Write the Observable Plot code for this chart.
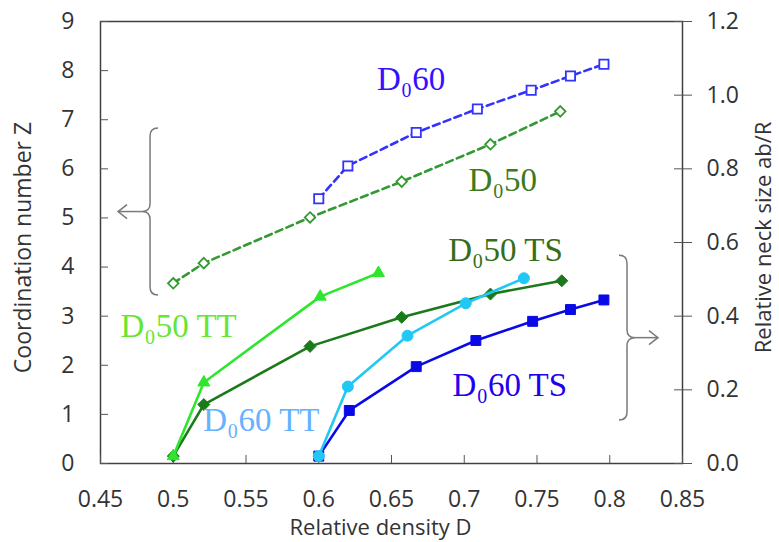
<!DOCTYPE html>
<html><head><meta charset="utf-8">
<script src="https://cdn.jsdelivr.net/npm/d3@7"></script>
<script src="https://cdn.jsdelivr.net/npm/@observablehq/plot@0.6"></script>
<style>body{margin:0;background:#fff}</style>
</head><body><div id="chart"></div>
<script>
// ---- data ----
const xTicks = [0.45, 0.5, 0.55, 0.6, 0.65, 0.7, 0.75, 0.8, 0.85];
const zTicks = [0, 1, 2, 3, 4, 5, 6, 7, 8, 9];
const neckTicks = [0, 0.2, 0.4, 0.6, 0.8, 1.0, 1.2];

// coordination number Z (left axis)
const density60 = [0.600, 0.620, 0.667, 0.709, 0.746, 0.773, 0.796];
const z60 = [5.39, 6.06, 6.74, 7.22, 7.60, 7.89, 8.13];
const density50 = [0.500, 0.521, 0.594, 0.657, 0.718, 0.766];
const z50 = [3.67, 4.08, 5.01, 5.74, 6.50, 7.17];
// relative neck size (right axis)
const density50TS = [0.500, 0.521, 0.594, 0.657, 0.718, 0.767];
const neck50TS = [0.02, 0.16, 0.318, 0.397, 0.46, 0.496];
const density60TS = [0.600, 0.621, 0.667, 0.708, 0.747, 0.773, 0.796];
const neck60TS = [0.02, 0.144, 0.263, 0.334, 0.386, 0.418, 0.444];
const density50TT = [0.500, 0.521, 0.601, 0.641];
const neck50TT = [0.02, 0.22, 0.453, 0.517];
const density60TT = [0.600, 0.620, 0.661, 0.701, 0.741];
const neck60TT = [0.02, 0.209, 0.347, 0.435, 0.503];

// annotation labels
const labelText = ["D₀60", "D₀50", "D₀50 TS", "D₀60 TS", "D₀50 TT", "D₀60 TT"];
const labelX = [0.640, 0.703, 0.689, 0.692, 0.4637, 0.5206];
const labelZ = [7.83, 5.76, 4.33, 1.59, 2.79, 0.875];
const labelColor = ["#3311ff", "#3c7a1e", "#356e1a", "#2200ee", "#66e633", "#66b2ff"];

// braces (data units: density, Z)
const braceX = [0.4844, 0.8122];
const braceTop = [6.82, 4.23];
const braceBottom = [3.42, 0.875];
const braceArrowTo = [0.4624, 0.8335];
const braceSide = ["left", "right"];

const zPerNeck = 9 / 1.2;

// ---- build series ----
const diamond = {draw(ctx, size) { const h = Math.sqrt(size / 2); ctx.moveTo(0, -h); ctx.lineTo(h, 0); ctx.lineTo(0, h); ctx.lineTo(-h, 0); ctx.closePath(); }};
const series = [
  {x: density50, v: z50, k: 1, color: "#339933", dash: "7,4.5", symbol: diamond, fill: "white", r: 4.2, sw: 1.8},
  {x: density60, v: z60, k: 1, color: "#3333ff", dash: "7,4.5", symbol: "square", fill: "white", r: 5.2, sw: 1.8},
  {x: density50TS, v: neck50TS, k: zPerNeck, color: "#1a7a1a", dash: null, symbol: diamond, fill: "#1a7a1a", r: 4.8, sw: 1},
  {x: density60TS, v: neck60TS, k: zPerNeck, color: "#0a0ae6", dash: null, symbol: "square", fill: "#0a0ae6", r: 5.6, sw: 1},
  {x: density50TT, v: neck50TT, k: zPerNeck, color: "#2ee62e", dash: null, symbol: "triangle", fill: "#2ee62e", r: 4.5, sw: 1},
  {x: density60TT, v: neck60TT, k: zPerNeck, color: "#22c8f5", dash: null, symbol: "circle", fill: "#22c8f5", r: 5.5, sw: 1}
];
const seriesMarks = series.flatMap(s => {
  const rows = s.x.map((x, i) => ({x, y: s.v[i] * s.k}));
  return [
    Plot.line(rows, {x: "x", y: "y", stroke: s.color, strokeWidth: 2.6, strokeDasharray: s.dash}),
    Plot.dot(rows, {x: "x", y: "y", symbol: s.symbol, r: s.r, fill: s.fill, stroke: s.color, strokeWidth: s.sw})
  ];
});

const labels = labelText.map((t, i) => ({t, x: labelX[i], y: labelZ[i], c: labelColor[i]}));

function braces(index, scales) {
  const g = d3.create("svg:g").attr("fill", "none").attr("stroke", "#7a7a7a").attr("stroke-width", 1.5);
  braceX.forEach((bx, i) => {
    const x0 = scales.x(bx), y1 = scales.y(braceTop[i]), y2 = scales.y(braceBottom[i]);
    const ym = (y1 + y2) / 2, w = 8, s = braceSide[i] === "left" ? 1 : -1;
    const tip = x0 - s * w;
    g.append("path").attr("d",
      `M${x0 + s * w},${y1} Q${x0},${y1} ${x0},${y1 + w} L${x0},${ym - w} Q${x0},${ym} ${tip},${ym}` +
      ` Q${x0},${ym} ${x0},${ym + w} L${x0},${y2 - w} Q${x0},${y2} ${x0 + s * w},${y2}`);
    const xa = scales.x(braceArrowTo[i]);
    g.append("path").attr("d", `M${tip},${ym} L${xa},${ym}`);
    g.append("path").attr("d", `M${xa + s * 9},${ym - 7} L${xa},${ym} L${xa + s * 9},${ym + 7}`);
  });
  return g.node();
}

const plot = Plot.plot({
  width: 779, height: 542,
  marginLeft: 100, marginRight: 97, marginTop: 21, marginBottom: 79,
  style: {fontFamily: "'Open Sans', sans-serif", fontSize: "23px", color: "#333", background: "white"},
  x: {domain: [0.45, 0.85], axis: null},
  y: {domain: [0, 9], axis: null},
  marks: [
    Plot.frame({stroke: "#404040", strokeWidth: 1.5}),
    Plot.axisX(xTicks, {anchor: "bottom", label: null, tickSize: -8, tickPadding: 35.5, stroke: "#555", tickFormat: d => String(+d.toFixed(2)), fill: "#333"}),
    Plot.axisY(zTicks, {anchor: "left", label: null, tickSize: -8, tickPadding: 34, stroke: "#555", tickFormat: d => String(d), fill: "#333"}),
    Plot.axisY(neckTicks, {anchor: "right", label: null, y: d => d * zPerNeck, tickSize: 9, tickPadding: 15, stroke: "#555", text: d => d.toFixed(1), fill: "#333"}),
    Plot.axisY(neckTicks, {anchor: "right", label: null, y: d => d * zPerNeck, tickSize: -9, stroke: "#555", text: () => ""}),
    Plot.text(["Relative density D"], {frameAnchor: "bottom", lineAnchor: "middle", textAnchor: "middle", dy: 64, dx: -11, fill: "#333", fontSize: 22}),
    Plot.text(["Coordination number Z"], {frameAnchor: "left", lineAnchor: "middle", textAnchor: "middle", rotate: -90, dx: -77, dy: 5, fill: "#333", fontSize: 23}),
    Plot.text(["Relative neck size ab/R"], {frameAnchor: "right", lineAnchor: "middle", textAnchor: "middle", rotate: -90, dx: 81, dy: -5, fill: "#333", fontSize: 22, ariaLabel: "ytitle2"}),
    braces,
    ...seriesMarks,
    Plot.text(labels, {x: "x", y: "y", text: "t", fill: "c", textAnchor: "start", lineAnchor: "middle",
      fontFamily: "'Liberation Serif', 'Times New Roman', serif", fontSize: 33, ariaLabel: "mathlbl"})
  ]
});

// math-style labels: italic D with subscript 0
const fs = 33;
d3.select(plot).selectAll('g[aria-label="mathlbl"] text').each(function() {
  const t = d3.select(this);
  const s = t.text();
  const rest = s.slice(2);
  t.text(null);
  t.append("tspan").attr("font-style", "italic").text("D");
  t.append("tspan").attr("font-size", fs * 0.72).attr("dy", fs * 0.15).text("0");
  t.append("tspan").attr("dy", -fs * 0.15).text(rest);
});
d3.select(plot).selectAll('g[aria-label="ytitle2"] text').each(function() {
  const t = d3.select(this);
  t.text(null);
  t.append("tspan").text("Relative neck size a");
  t.append("tspan").attr("font-size", 15).attr("dy", 5).text("b");
  t.append("tspan").attr("dy", -5).text("/R");
});
document.getElementById("chart").appendChild(plot);
</script>
</body></html>
